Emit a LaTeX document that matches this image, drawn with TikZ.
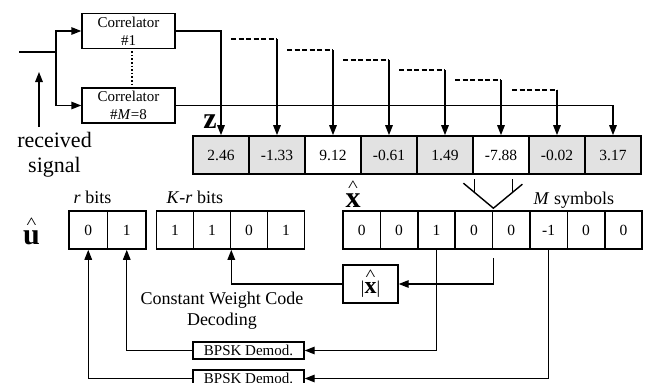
\documentclass[tikz,border=0pt]{standalone}
\usepackage{fontspec}
\setmainfont{Liberation Serif}
\usetikzlibrary{positioning,arrows.meta,calc}
\definecolor{CellShade}{HTML}{E2E2E2}
\newcommand{\ptsize}[2]{\fontsize{#1}{#2}\selectfont}
\newsavebox{\hatbox}
\newcommand{\hatlbl}[2]{\sbox\hatbox{\textbf{#1}}\rlap{\makebox[\wd\hatbox]{\raisebox{#2}{\scalebox{1.3}[1]{\ptsize{16}{16}\textasciicircum}}}}\usebox\hatbox}
\newcommand{\tapline}[3]{\coordinate (tap#1) at (#2,#3); \draw[tapdash] (tap#1) -- (tap#1 -| z#1.north); \draw[->] (tap#1 -| z#1.north) -- (z#1.north);}

\begin{document}
\begin{tikzpicture}[x=1pt,y=-1pt,line width=1.4pt,
  >={Triangle[length=10pt,width=7.5pt]},
  corrbox/.style={draw,line width=1.4pt,minimum width=93pt,minimum height=35pt,inner sep=0pt,align=center,font=\ptsize{15}{18}},
  zcell/.style={draw,line width=1.6pt,minimum width=56pt,minimum height=38pt,inner sep=0pt,font=\ptsize{15.5}{18}},
  zdot/.style={zcell,fill=CellShade},
  bitcell/.style={draw,line width=1.6pt,minimum height=38pt,inner sep=0pt,font=\ptsize{15.5}{18}},
  rcell/.style={bitcell,minimum width=38.5pt},
  kcell/.style={bitcell,minimum width=37pt},
  xcell/.style={bitcell,minimum width=37.4pt},
  demodbox/.style={draw,line width=1.4pt,minimum width=111pt,minimum height=17pt,inner sep=0pt,font=\ptsize{15}{17}},
  lbl/.style={inner sep=0pt,font=\ptsize{18}{21}},
  tapdash/.style={dash pattern=on 5pt off 2.5pt}]
  \useasboundingbox (0,0) rectangle (646,383);
  \clip (0,0) rectangle (646,383);
  % correlator bank
  \node[corrbox] (corr1) at (128.5,31) {Correlator\\\#1};
  \node[corrbox] (corrM) at (128.5,105.5) {Correlator\\\#\textit{M}=8};
  \node[lbl,font=\ptsize{22}{25},align=center] (rxtext) at (54.5,154.5) {received\\signal};
  \coordinate (rxfoot) at (39,127);
  \coordinate (rxtip) at (39,72);
  \coordinate (rxin) at (19,52);
  \coordinate (fork) at (56,52);
  % correlator outputs z
  \node[lbl,font=\ptsize{30}{30},anchor=base] (zlbl) at (210,128) {\textbf{z}};
  \node[zdot] (z1) at (221,155) {2.46};
  \node[zdot] (z2) at (277,155) {-1.33};
  \node[zcell] (z3) at (333,155) {9.12};
  \node[zdot] (z4) at (389,155) {-0.61};
  \node[zdot] (z5) at (445,155) {1.49};
  \node[zcell] (z6) at (501,155) {-7.88};
  \node[zdot] (z7) at (557,155) {-0.02};
  \node[zdot] (z8) at (613,155) {3.17};
  % hard decisions
  \node[lbl,font=\ptsize{30}{30},anchor=base] (xhat) at (353,207) {\hatlbl{x}{16pt}};
  \node[lbl,anchor=base west] (msym) at (533,204) {\textit{M} symbols};
  \node[xcell] (x1) at (361.7,230) {0};
  \node[xcell] (x2) at (399.1,230) {0};
  \node[xcell] (x3) at (436.5,230) {1};
  \node[xcell] (x4) at (473.9,230) {0};
  \node[xcell] (x5) at (511.3,230) {0};
  \node[xcell] (x6) at (548.7,230) {-1};
  \node[xcell] (x7) at (586.1,230) {0};
  \node[xcell] (x8) at (623.5,230) {0};
  % decoded bits
  \node[lbl,font=\ptsize{30}{30},anchor=base] (uhat) at (31.5,244) {\hatlbl{u}{16pt}};
  \node[lbl,anchor=base west] (rbits) at (73,203) {\textit{r} bits};
  \node[lbl,anchor=base west] (krbits) at (166,203) {\textit{K}-\textit{r} bits};
  \node[rcell] (r1) at (88.25,230) {0};
  \node[rcell] (r2) at (126.75,230) {1};
  \node[kcell] (k1) at (175,230) {1};
  \node[kcell] (k2) at (212,230) {1};
  \node[kcell] (k3) at (249,230) {0};
  \node[kcell] (k4) at (286,230) {1};
  % decoders
  \node[draw,line width=1.4pt,minimum width=55pt,minimum height=38pt,inner sep=0pt,font=\ptsize{24}{24}] (absx) at (370.5,284) {{\ptsize{18}{18}|}\hatlbl{x}{13pt}{\ptsize{18}{18}|}};
  \node[lbl,align=center] (cwcd) at (222,311) {Constant Weight Code\\Decoding};
  \node[demodbox] (bpskA) at (248.5,350.5) {BPSK Demod.};
  \node[demodbox] (bpskB) at (248.5,378.5) {BPSK Demod.};
  % connectors
  \draw[->] (rxfoot) -- (rxtip);
  \draw (rxin) -- (fork);
  \draw[->] (fork) |- (corr1.west);
  \draw[->] (fork) |- (corrM.west);
  \draw[dotted,line width=1.6pt,shorten <=2pt,shorten >=2pt] ([xshift=3.5pt]corr1.south) -- ([xshift=3.5pt]corrM.north);
  \draw[->] (corr1.east) -| (z1.north);
  \tapline{2}{231}{39}
  \tapline{3}{287}{50}
  \tapline{4}{343}{60}
  \tapline{5}{399}{70}
  \tapline{6}{455}{80}
  \tapline{7}{512}{90}
  \draw[->] (corrM.east) -| (z8.north);
  % selection mark
  \coordinate (vtip) at ([yshift=2pt]x4.north east);
  \draw ($(vtip)+(-30,-25)$) -- (vtip) -- ($(vtip)+(29,-24)$);
  \draw ($(vtip)+(-19,-29)$) -- ($(vtip)+(-19,-16)$);
  \draw ($(vtip)+(19,-29)$) -- ($(vtip)+(19,-16)$);
  \coordinate (xtap) at ([yshift=-8pt]x4.south east);
  \draw[->] (xtap) |- (absx.east);
  \draw[->] (absx.west) -| (k2.south east);
  \draw[->] (x3.south) |- (bpskA.east);
  \draw[->] (bpskA.west) -| (r2.south);
  \draw[->] (x6.south) |- (bpskB.east);
  \draw[->] (bpskB.west) -| (r1.south);
\end{tikzpicture}
\end{document}
